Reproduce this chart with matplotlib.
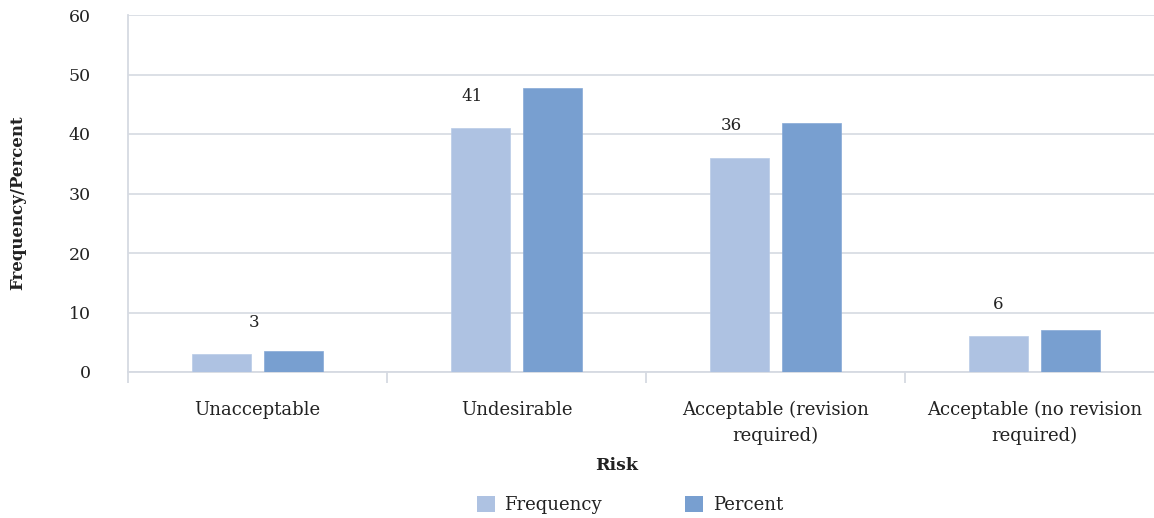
import matplotlib
matplotlib.use("Agg")
import matplotlib.pyplot as plt
from matplotlib.patches import Patch
import numpy as np

categories = ["Unacceptable", "Undesirable", "Acceptable (revision\nrequired)",
              "Acceptable (no revision\nrequired)"]
frequency = [3, 41, 36, 6]
percent = [3.5, 47.7, 41.9, 7.0]
y_ticks = [0, 10, 20, 30, 40, 50, 60]

FREQ_COLOR = "#aec2e2"
PCT_COLOR = "#789fd0"
GRID_COLOR = "#d6dae2"
TEXT_COLOR = "#222222"

plt.rcParams["font.family"] = ["DejaVu Serif"]

W, H = 1154, 518
fig = plt.figure(figsize=(W / 100, H / 100), dpi=100)
ax = fig.add_axes([128 / W, 1 - 372 / H, (1164 - 128) / W, (372 - 15) / H])

x = np.arange(len(categories))
bw = 0.224
off = 0.139
ax.bar(x - off, frequency, bw, color=FREQ_COLOR, edgecolor="#b9cbe7", linewidth=0.5, zorder=3)
ax.bar(x + off, percent, bw, color=PCT_COLOR, edgecolor="#86a9d6", linewidth=0.5, zorder=3)

# frequency labels above the light bars
label_shift = [33, -8, -8, 0]
for xi, v, s in zip(x, frequency, label_shift):
    ax.annotate(str(v), (xi - off, v), xytext=(s * 0.72, 23), textcoords="offset points",
                ha="center", va="center", fontsize=12, color=TEXT_COLOR)

ax.set_xlim(-0.5, 3.5)
ax.set_ylim(0, 60)
ax.set_yticks(y_ticks)
ax.tick_params(axis="y", length=0, pad=27, labelsize=12.5, labelcolor=TEXT_COLOR)
ax.set_xticks(x)
ax.set_xticklabels(categories, fontsize=13, color=TEXT_COLOR, linespacing=1.5)
ax.tick_params(axis="x", which="major", length=0, pad=21)
ax.set_xticks(np.arange(-0.5, 3.6, 1.0), minor=True)
ax.tick_params(axis="x", which="minor", length=8, width=1.3, color=GRID_COLOR)

ax.grid(axis="y", color=GRID_COLOR, linewidth=1.2, zorder=0)
for side in ("top", "right"):
    ax.spines[side].set_visible(False)
ax.spines["left"].set_color(GRID_COLOR)
ax.spines["left"].set_linewidth(1.3)
ax.spines["bottom"].set_color(GRID_COLOR)
ax.spines["bottom"].set_linewidth(1.3)

fig.text(18 / W, 1 - 203 / H, "Frequency/Percent", rotation=90, ha="center", va="center",
         fontsize=12, fontweight="bold", color=TEXT_COLOR)
fig.text(617 / W, 1 - 465 / H, "Risk", ha="center", va="center",
         fontsize=12.5, fontweight="bold", color=TEXT_COLOR)

handles = [Patch(facecolor=FREQ_COLOR, edgecolor="none", label="Frequency"),
           Patch(facecolor=PCT_COLOR, edgecolor="none", label="Percent")]
fig.legend(handles=handles, loc="center", bbox_to_anchor=(630 / W, 1 - 505 / H), ncol=2,
           frameon=False, fontsize=13, handlelength=1.0, handleheight=1.0,
           handletextpad=0.55, columnspacing=4.6, labelcolor=TEXT_COLOR)

fig.savefig("out.png", dpi=100)
